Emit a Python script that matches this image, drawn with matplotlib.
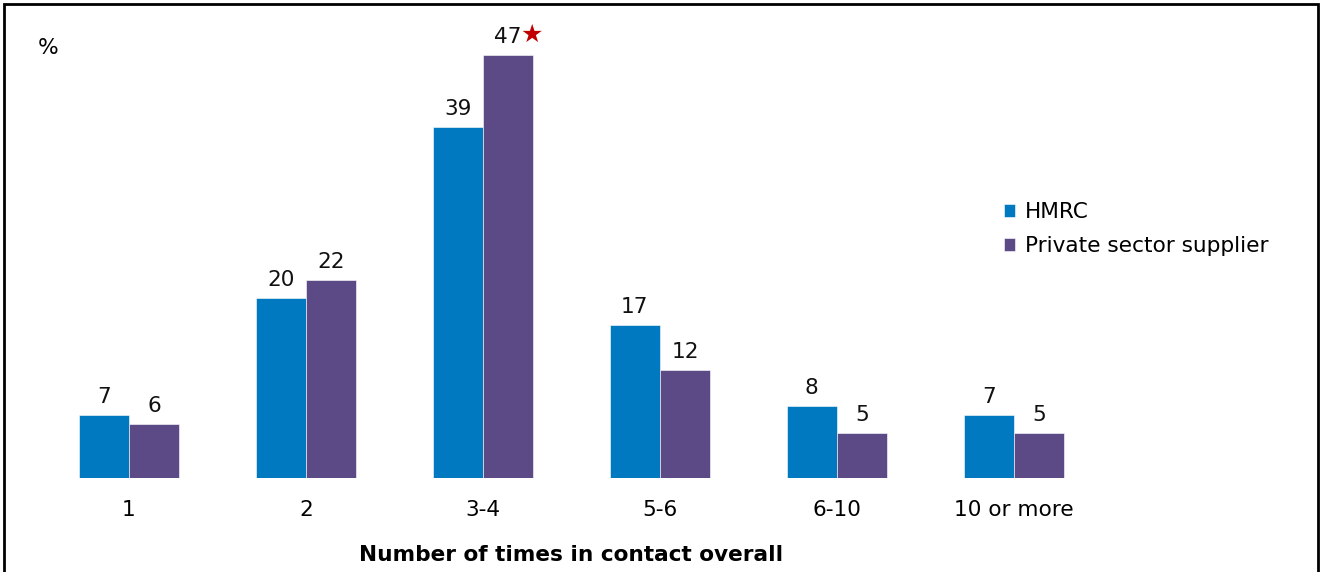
import numpy as np
import matplotlib
matplotlib.use("Agg")
import matplotlib.pyplot as plt
from matplotlib.patches import Rectangle

# --- Data ---
categories = ["1", "2", "3-4", "5-6", "6-10", "10 or more"]
hmrc = [7, 20, 39, 17, 8, 7]
private = [6, 22, 47, 12, 5, 5]
series_names = ["HMRC", "Private sector supplier"]
starred = [(1, 2)]  # (series, category) with a significant-difference star

colors = ["#0079C1", "#5B4A86"]

plt.rcParams["font.family"] = "DejaVu Sans"
FS = 15.6

W, H = 1321, 572
fig = plt.figure(figsize=(W / 100, H / 100), dpi=100)

# axes placed in pixel terms: group centres 177 px apart, baseline at y=478
px_per_cat = 177.0
x0_px = 129.0
xlim = (-0.6, 6.6)
left_px = x0_px + xlim[0] * px_per_cat
right_px = x0_px + xlim[1] * px_per_cat
ylim = (0, 50)
px_per_unit = 9.0
base_px = 478.0
top_px = base_px - ylim[1] * px_per_unit
ax = fig.add_axes([left_px / W, 1 - base_px / H,
                   (right_px - left_px) / W, (base_px - top_px) / H])

x = np.arange(len(categories))
bw = 0.285
for si, vals in enumerate([hmrc, private]):
    off = (si - 0.5) * bw
    bars = ax.bar(x + off, vals, width=bw, color=colors[si], label=series_names[si],
                  edgecolor="white", linewidth=0.4)
    for ci, v in enumerate(vals):
        ax.text(x[ci] + off, v + 0.9, str(v), ha="center", va="bottom",
                fontsize=FS, color="#111111")
        if (si, ci) in starred:
            ax.annotate("\u2605", xy=(x[ci] + off, v + 0.9), xytext=(17, 0),
                        textcoords="offset points", ha="center", va="bottom",
                        fontsize=18, color="#C00000")

ax.set_xlim(*xlim)
ax.set_ylim(*ylim)
ax.set_xticks(x)
ax.set_xticklabels(categories, fontsize=FS)
ax.tick_params(axis="x", length=0, pad=16)
ax.set_yticks([])
for s in ax.spines.values():
    s.set_visible(False)

ax.legend(loc="upper left", bbox_to_anchor=((984 - left_px) / (right_px - left_px),
                                            (base_px - 183) / (base_px - top_px)),
          frameon=False, fontsize=FS, handlelength=0.55, handleheight=0.55,
          handletextpad=0.45, labelspacing=0.62)

fig.text(38 / W, 1 - 48 / H, "%", fontsize=FS, va="center", ha="left")
fig.text(571 / W, 1 - 555 / H, "Number of times in contact overall", fontsize=FS,
         fontweight="bold", ha="center", va="center")

# outer frame (bottom edge falls off the canvas)
frame = Rectangle((4 / W, -0.05), (1318 - 4) / W, 1 - 4 / H + 0.05,
                  transform=fig.transFigure, fill=False, edgecolor="black",
                  linewidth=2)
fig.add_artist(frame)

fig.savefig("out.png", dpi=100)
